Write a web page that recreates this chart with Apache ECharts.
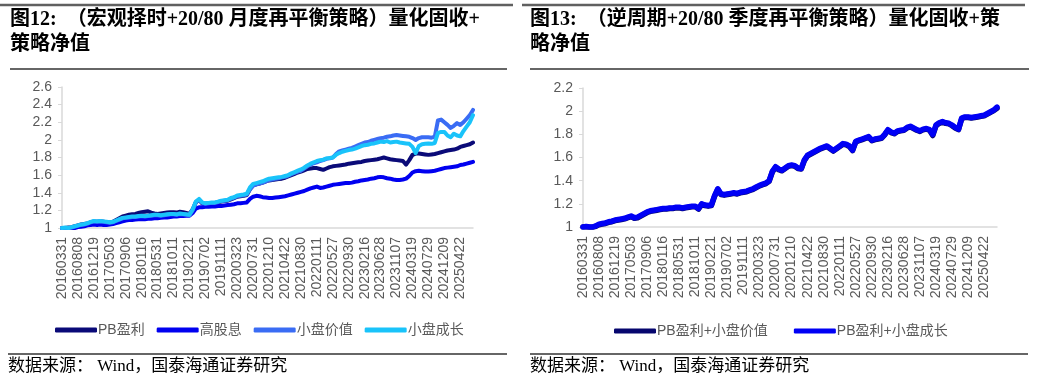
<!DOCTYPE html>
<html>
<head>
<meta charset="utf-8">
<script src="https://cdn.jsdelivr.net/npm/echarts@6/dist/echarts.min.js"></script>
<style>
html,body{margin:0;padding:0;background:#fff;}
#c{width:1037px;height:381px;}
</style>
</head>
<body>
<div id="c"></div>
<script>
// tick labels shared by both charts (one label every 5 samples)
const labels = ['20160331','20160808','20161219','20170503','20170906','20180116','20180531','20181011','20190221','20190702','20191111','20200323','20200731','20201210','20210422','20210830','20220111','20220527','20220930','20230216','20230628','20231107','20240319','20240729','20241209','20250422'];
const STEP = 5;

// Figure 12 series (5 samples per label interval)
const pbYingli = [
1.00,1.00,1.005,1.01,1.02, 1.03,1.04,1.045,1.05,1.065, 1.07,1.07,1.075,1.07,1.065, 1.06,1.07,1.09,1.11,1.13,
1.14,1.15,1.155,1.16,1.17, 1.18,1.185,1.19,1.175,1.165, 1.16,1.165,1.17,1.175,1.18, 1.18,1.175,1.185,1.18,1.17,
1.16,1.21,1.29,1.32,1.28, 1.275,1.28,1.28,1.285,1.29, 1.30,1.305,1.31,1.325,1.34, 1.355,1.36,1.365,1.375,1.44,
1.485,1.495,1.505,1.515,1.53, 1.54,1.545,1.55,1.555,1.56, 1.57,1.585,1.60,1.615,1.63, 1.64,1.655,1.67,1.675,1.68,
1.68,1.67,1.66,1.675,1.69, 1.70,1.705,1.71,1.715,1.72, 1.73,1.735,1.74,1.745,1.75, 1.76,1.765,1.77,1.775,1.78,
1.79,1.80,1.79,1.78,1.775, 1.77,1.765,1.76,1.72,1.77, 1.83,1.845,1.845,1.84,1.835, 1.83,1.835,1.84,1.85,1.86,
1.87,1.88,1.885,1.89,1.90, 1.92,1.93,1.94,1.95,1.97];
const gaoGuxi = [
1.00,0.995,0.99,0.995,1.00, 1.01,1.015,1.02,1.03,1.035, 1.04,1.035,1.04,1.035,1.035, 1.04,1.045,1.055,1.065,1.075,
1.085,1.09,1.09,1.095,1.10, 1.10,1.10,1.105,1.105,1.11, 1.11,1.115,1.12,1.12,1.125, 1.13,1.13,1.135,1.135,1.14,
1.14,1.17,1.22,1.235,1.235, 1.24,1.24,1.245,1.245,1.25, 1.25,1.255,1.26,1.265,1.27, 1.28,1.28,1.285,1.29,1.33,
1.355,1.365,1.36,1.35,1.345, 1.34,1.34,1.345,1.35,1.355, 1.36,1.37,1.38,1.39,1.40, 1.41,1.42,1.435,1.45,1.46,
1.47,1.455,1.46,1.47,1.48, 1.49,1.495,1.50,1.505,1.51, 1.51,1.515,1.525,1.53,1.54, 1.545,1.55,1.56,1.565,1.575,
1.58,1.575,1.565,1.56,1.55, 1.545,1.545,1.55,1.56,1.59, 1.63,1.645,1.65,1.645,1.64, 1.64,1.645,1.65,1.66,1.67,
1.68,1.685,1.69,1.695,1.70, 1.715,1.72,1.73,1.74,1.75];
const xpJiazhi = [
1.00,1.00,0.995,1.005,1.015, 1.025,1.035,1.04,1.05,1.065, 1.075,1.07,1.075,1.07,1.065, 1.06,1.065,1.08,1.095,1.11,
1.115,1.12,1.125,1.125,1.13, 1.135,1.13,1.135,1.14,1.145, 1.145,1.14,1.145,1.15,1.155, 1.155,1.15,1.16,1.155,1.15,
1.145,1.20,1.29,1.32,1.285, 1.275,1.28,1.285,1.285,1.295, 1.305,1.31,1.315,1.33,1.345, 1.36,1.365,1.37,1.38,1.44,
1.48,1.495,1.505,1.515,1.53, 1.545,1.55,1.56,1.565,1.575, 1.58,1.595,1.61,1.625,1.64, 1.65,1.675,1.70,1.72,1.735,
1.745,1.76,1.77,1.785,1.79, 1.80,1.84,1.87,1.88,1.89, 1.90,1.91,1.925,1.94,1.955, 1.97,1.975,1.99,2.00,2.01,
2.02,2.025,2.035,2.04,2.05, 2.055,2.05,2.045,2.04,2.035, 2.02,2.00,2.02,2.03,2.03, 2.03,2.025,2.035,2.22,2.23,
2.20,2.17,2.135,2.16,2.19, 2.17,2.20,2.24,2.28,2.34];
const xpChengzhang = [
1.00,1.005,1.00,1.01,1.02, 1.03,1.04,1.045,1.055,1.07, 1.08,1.075,1.08,1.075,1.07, 1.065,1.07,1.085,1.10,1.115,
1.12,1.125,1.13,1.13,1.135, 1.14,1.135,1.14,1.145,1.15, 1.15,1.145,1.15,1.155,1.16, 1.16,1.155,1.165,1.16,1.155,
1.15,1.21,1.30,1.33,1.29, 1.28,1.285,1.29,1.29,1.30, 1.31,1.315,1.32,1.34,1.35, 1.37,1.375,1.38,1.39,1.46,
1.50,1.51,1.52,1.53,1.545, 1.56,1.565,1.57,1.575,1.58, 1.59,1.60,1.62,1.635,1.65, 1.665,1.685,1.71,1.73,1.745,
1.76,1.77,1.775,1.79,1.795, 1.80,1.83,1.85,1.865,1.875, 1.885,1.89,1.90,1.915,1.93, 1.94,1.945,1.955,1.96,1.97,
1.98,1.975,1.985,1.97,1.975, 1.98,1.97,1.965,1.96,1.955, 1.92,1.85,1.93,1.95,1.955, 1.96,1.955,1.965,2.08,2.09,
2.09,2.05,2.03,2.07,2.05, 2.04,2.10,2.15,2.20,2.28];

// Figure 13 series
const pbJiazhi = [
1.00,1.00,0.998,0.998,1.005, 1.02,1.025,1.03,1.04,1.045, 1.055,1.06,1.065,1.07,1.08, 1.09,1.075,1.08,1.095,1.11,
1.125,1.135,1.14,1.145,1.15, 1.155,1.155,1.16,1.16,1.165, 1.165,1.16,1.165,1.17,1.175, 1.175,1.155,1.195,1.185,1.18,
1.185,1.265,1.325,1.28,1.275, 1.28,1.285,1.29,1.285,1.295, 1.30,1.305,1.315,1.325,1.34, 1.355,1.365,1.375,1.395,1.475,
1.515,1.495,1.485,1.505,1.525, 1.53,1.525,1.505,1.50,1.575, 1.615,1.63,1.645,1.66,1.675, 1.685,1.695,1.675,1.655,1.675,
1.695,1.715,1.71,1.695,1.66, 1.735,1.745,1.755,1.765,1.775, 1.745,1.755,1.76,1.765,1.795, 1.835,1.815,1.805,1.825,1.83,
1.835,1.855,1.865,1.85,1.835, 1.825,1.84,1.845,1.835,1.79, 1.875,1.895,1.905,1.895,1.89, 1.875,1.855,1.84,1.935,1.945,
1.945,1.94,1.945,1.95,1.955, 1.96,1.975,1.99,2.005,2.025];
const pbChengzhang = [
1.00,1.005,1.00,1.00,1.01, 1.025,1.03,1.035,1.045,1.05, 1.06,1.065,1.07,1.075,1.085, 1.095,1.08,1.085,1.10,1.115,
1.13,1.14,1.145,1.15,1.155, 1.16,1.16,1.165,1.165,1.17, 1.17,1.165,1.17,1.175,1.18, 1.18,1.16,1.20,1.19,1.185,
1.19,1.27,1.33,1.285,1.28, 1.285,1.29,1.295,1.29,1.30, 1.305,1.31,1.32,1.33,1.345, 1.36,1.37,1.38,1.40,1.48,
1.52,1.50,1.49,1.51,1.53, 1.535,1.53,1.51,1.505,1.58, 1.62,1.635,1.65,1.665,1.68, 1.69,1.70,1.68,1.66,1.68,
1.70,1.72,1.715,1.70,1.665, 1.74,1.75,1.76,1.77,1.78, 1.75,1.76,1.765,1.77,1.80, 1.84,1.82,1.81,1.83,1.835,
1.84,1.86,1.87,1.855,1.84, 1.83,1.845,1.85,1.84,1.80, 1.88,1.90,1.91,1.90,1.895, 1.88,1.86,1.845,1.94,1.95,
1.95,1.945,1.95,1.955,1.96, 1.965,1.98,1.995,2.01,2.035];

const cats = [];
for (let i = 0; i < pbYingli.length; i++) {
  const k = Math.floor(i / STEP), j = i % STEP;
  cats.push(j === 0 ? labels[k] : labels[k] + '_' + j);
}

const GRAY = '#595959';
const AXIS = '#D9D9D9';
const SANS = '"Liberation Sans", Arial, "Noto Sans CJK SC", sans-serif';
const SERIF = '"Liberation Serif", "Noto Sans CJK SC", serif';

function xAxisFor(gi) {
  return {
    type: 'category', gridIndex: gi, data: cats, boundaryGap: false,
    axisLine: {lineStyle: {color: AXIS, width: 1.5}},
    axisTick: {show: false},
    axisLabel: {interval: STEP - 1, rotate: 90, margin: 9, fontSize: 14, color: GRAY, fontFamily: SANS},
    splitLine: {show: false}
  };
}
function yAxisFor(gi, max) {
  return {
    type: 'value', gridIndex: gi, min: 1, max: max, interval: 0.2,
    axisLine: {show: true, lineStyle: {color: AXIS, width: 1.5}},
    axisTick: {show: true, length: 4, lineStyle: {color: AXIS}},
    axisLabel: {margin: 10, fontSize: 14, color: GRAY, fontFamily: SANS},
    splitLine: {show: false}
  };
}
function line(name, data, color, w, gi) {
  return {
    name: name, type: 'line', xAxisIndex: gi, yAxisIndex: gi, data: data,
    showSymbol: false, symbol: 'none', itemStyle: {color: color},
    lineStyle: {color: color, width: w, cap: 'round', join: 'round'}, animation: false
  };
}
function txt(t, x, y, size, weight, font) {
  return {type: 'text', x: x, y: y, silent: true,
    style: {text: t, fontSize: size, fontWeight: weight, fontFamily: font, fill: '#000', textVerticalAlign: 'middle'}};
}
function hline(x1, x2, y, w, c) {
  return {type: 'line', silent: true, shape: {x1: x1, y1: y, x2: x2, y2: y}, style: {stroke: c, lineWidth: w}};
}

const chart = echarts.init(document.getElementById('c'), null, {renderer: 'canvas'});
chart.setOption({
  animation: false,
  backgroundColor: '#fff',
  grid: [
    {left: 62, right: 1037 - 473, top: 87, bottom: 381 - 228, containLabel: false},
    {left: 583, right: 1037 - 997, top: 88, bottom: 381 - 227, containLabel: false}
  ],
  xAxis: [xAxisFor(0), xAxisFor(1)],
  yAxis: [yAxisFor(0, 2.6), yAxisFor(1, 2.2)],
  legend: [
    {left: 51, top: 318, itemWidth: 42, itemHeight: 5, itemGap: 12, icon: 'roundRect', padding: [5, 5, 5, 4],
     textStyle: {fontSize: 14, color: GRAY, fontFamily: SANS, padding: [0, 0, 0, -4]},
     data: ['PB盈利', '高股息', '小盘价值', '小盘成长']},
    {left: 610, top: 319, itemWidth: 42, itemHeight: 5, itemGap: 26, icon: 'roundRect', padding: [5, 5, 5, 4],
     textStyle: {fontSize: 14, color: GRAY, fontFamily: SANS, padding: [0, 0, 0, -4]},
     data: ['PB盈利+小盘价值', 'PB盈利+小盘成长']}
  ],
  series: [
    line('PB盈利', pbYingli, '#0A0A78', 4, 0),
    line('高股息', gaoGuxi, '#0000F0', 4, 0),
    line('小盘价值', xpJiazhi, '#3A6CF4', 4, 0),
    line('小盘成长', xpChengzhang, '#19C3FA', 4, 0),
    line('PB盈利+小盘价值', pbJiazhi, '#06066E', 5.5, 1),
    line('PB盈利+小盘成长', pbChengzhang, '#0000F5', 5.5, 1)
  ],
  graphic: [
    hline(0, 513, 5, 2.5, '#606060'),
    hline(522, 1025, 5, 2.5, '#606060'),
    txt('图12:  （宏观择时+20/80 月度再平衡策略）量化固收+', 10, 20, 20, 'bold', SERIF),
    txt('策略净值', 10, 45, 20, 'bold', SERIF),
    txt('图13:  （逆周期+20/80 季度再平衡策略）量化固收+策', 530, 20, 20, 'bold', SERIF),
    txt('略净值', 530, 45, 20, 'bold', SERIF),
    hline(10, 507, 69, 1.3, '#333'),
    hline(530, 1029, 69, 1.3, '#333'),
    hline(8, 507, 354, 1.3, '#333'),
    hline(530, 1028, 354, 1.3, '#333'),
    txt('数据来源： Wind，国泰海通证券研究', 8, 367, 17, 'normal', SERIF),
    txt('数据来源： Wind，国泰海通证券研究', 530, 367, 17, 'normal', SERIF)
  ]
});
</script>
</body>
</html>
